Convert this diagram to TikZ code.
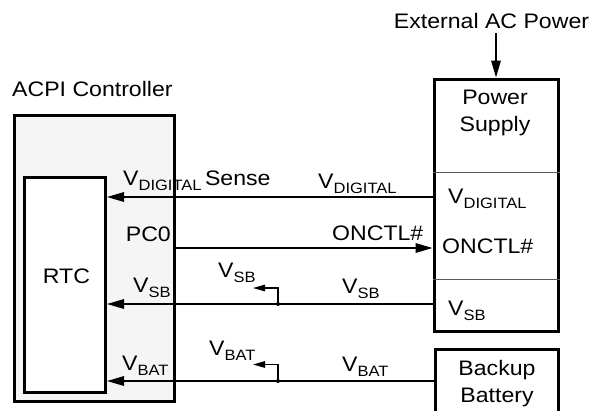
\documentclass[tikz,border=0pt]{standalone}
\usepackage{fontspec}
\setmainfont[FakeStretch=1.1]{Liberation Sans}
\usetikzlibrary{arrows.meta}
\definecolor{ctrlgray}{RGB}{245,245,245}
\definecolor{divgray}{RGB}{90,90,90}
\newcommand{\lsub}[1]{\raisebox{-5pt}{\fontsize{15}{15}\selectfont #1}}

\begin{document}
\begin{tikzpicture}[x=1pt,y=-1pt,
  box/.style={draw,line width=3pt,inner sep=0pt},
  sig/.style={line width=1.7pt,-{Triangle[length=17pt,width=9.5pt]}},
  tap/.style={line width=1.4pt,-{Triangle[length=12pt,width=6.5pt]}},
  lbl/.style={font=\fontsize{21}{26.5}\selectfont,inner sep=0pt}]
\clip (0,0) rectangle (593,410);
\node[box,fill=ctrlgray,minimum width=160.5,minimum height=286.5] (acpi) at (94.25,258.25) {};
\node[box,fill=white,minimum width=81.5,minimum height=215.5] (rtc) at (64.75,284.75) {};
\node[box,minimum width=124,minimum height=252] (ps) at (496,205) {};
\node[box,minimum width=123.5,minimum height=100] (bat) at (496.75,399) {};
\draw[divgray,line width=0.9pt] (ps.west |- 0,172) -- (ps.east |- 0,172);
\draw[divgray,line width=0.9pt] (ps.west |- 0,279.5) -- (ps.east |- 0,279.5);

\node[lbl,anchor=base west] (title) at (12,96) {ACPI Controller};
\node[lbl,anchor=base] (rtctxt) at (66.5,283) {RTC};
\node[lbl,anchor=base] (ext) at (491.5,28) {External AC Power};
\node[lbl,align=center,anchor=north] (pstxt) at (495,90) {Power\\Supply};
\node[lbl,align=center,anchor=north] (battxt) at (497,360.5) {Backup\\Battery};

\node[lbl,anchor=base west] (sense) at (123,185) {V\lsub{DIGITAL}\,Sense};
\node[lbl,anchor=base east] (pc) at (171,241) {PC0};
\node[lbl,anchor=base west] (sbl) at (133,292) {V\lsub{SB}};
\node[lbl,anchor=base west] (batl) at (122,370) {V\lsub{BAT}};
\node[lbl,anchor=base west] (sbm) at (218,277) {V\lsub{SB}};
\node[lbl,anchor=base west] (batm) at (209,355) {V\lsub{BAT}};
\node[lbl,anchor=base west] (digr) at (318,188) {V\lsub{DIGITAL}};
\node[lbl,anchor=base west] (onr) at (332,240) {ONCTL\#};
\node[lbl,anchor=base west] (sbr) at (342,293) {V\lsub{SB}};
\node[lbl,anchor=base west] (batr) at (342,371) {V\lsub{BAT}};
\node[lbl,anchor=base west] (psdig) at (448,203) {V\lsub{DIGITAL}};
\node[lbl,anchor=base west] (pson) at (442,253) {ONCTL\#};
\node[lbl,anchor=base west] (pssb) at (448,315) {V\lsub{SB}};

\draw[sig] ([yshift=-5pt]ext.south -| ps.north) -- (ps.north);
\draw[sig] (ps.west |- 0,197) -- (rtc.east |- 0,197);
\draw[sig] (acpi.east |- 0,248) -- (ps.west |- 0,248);
\draw[sig] (ps.west |- 0,304) -- (rtc.east |- 0,304);
\draw[sig] (bat.west |- 0,381) -- (rtc.east |- 0,381);

\coordinate (sbtap) at (278,304);
\coordinate (sbend) at (253,288);
\coordinate (battap) at (278,381);
\coordinate (batend) at (253,364.5);
\fill (sbtap) circle (2);
\fill (battap) circle (2);
\draw[tap] (sbtap) |- (sbend);
\draw[tap] (battap) |- (batend);
\end{tikzpicture}
\end{document}
